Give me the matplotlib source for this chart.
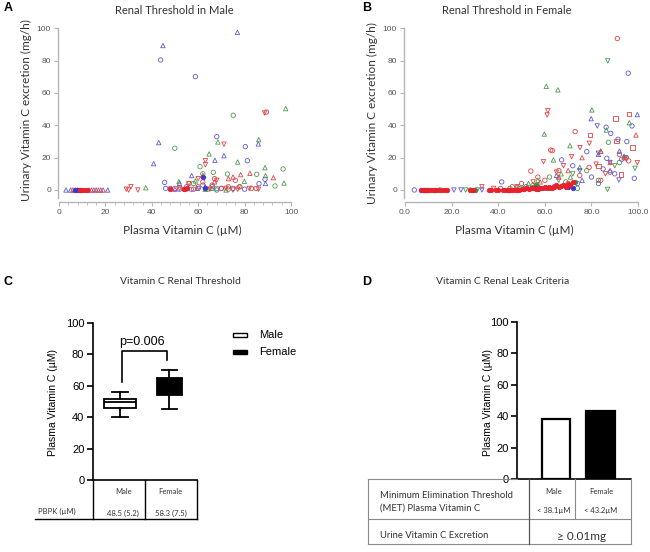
# Renal threshold figure: scatter of urinary vs plasma vitamin C (A, B),
# box plot of thresholds (C) and leak criteria bars (D)

import numpy as np
import matplotlib.pyplot as plt
from matplotlib.patches import Rectangle
from matplotlib.ticker import MultipleLocator, FormatStrFormatter

W, H = 650, 552
BLUE, GREEN, RED = '#5c5cd2', '#4f9a4f', '#e04444'
DENSE_RED, DENSE_BLUE, DENSE_GREEN = '#e8222c', '#3a3ac8', '#3f8a3f'
SANS = ['Lato', 'DejaVu Sans']
ARIAL = ['Liberation Sans', 'DejaVu Sans']

# ---- panel A data (male) ----
a_blue_tri_x = [3, 5, 7, 14, 16, 18, 21, 44.8, 76.9, 43.0, 40.8, 71.1, 67.2, 85.9, 57.2, 51.9, 89.0, 59.5, 63, 50]
a_blue_tri_y = [0, 0, 0, 0, 0, 0, 0, 89.3, 97.5, 29.3, 16.3, 21.2, 18.4, 28.5, 8.9, 4.1, 4.0, 1, 2, 0.5]
a_blue_circ_x = [43.8, 58.8, 68.0, 80.3, 81.2, 88.8, 45.5, 86.2, 48, 55, 60, 62, 66, 68, 70, 46, 52, 57, 75, 80]
a_blue_circ_y = [80.4, 70.1, 33.0, 26.8, 18.1, 6.6, 4.7, 3.9, 1, 2, 1, 3, 2, 0, 1, 1, 0.5, 0.5, 1, 0.5]
a_green_tri_x = [97.7, 86.1, 68.5, 64.7, 77.0, 88.8, 89.0, 79.9, 97.0, 37.4, 51.7, 58.8, 63, 66, 72]
a_green_tri_y = [50.3, 31.1, 29.7, 22.3, 17.3, 13.8, 8.9, 5.4, 4.3, 1.4, 5.2, 5.6, 0.5, 1, 0]
a_green_circ_x = [75.1, 49.9, 60.8, 66.5, 72.6, 85.2, 96.6, 93.1, 77.6, 55, 64, 68, 73, 62, 58]
a_green_circ_y = [46.2, 25.8, 14.4, 10.9, 9.9, 9.7, 13.0, 2.5, 1.9, 0.5, 0.5, 1, 0.5, 10, 4]
a_red_dtri_x = [88.6, 71.1, 63.1, 63.1, 30, 31, 34, 29, 65, 72, 77, 82, 86, 75, 56, 60, 68, 52]
a_red_dtri_y = [47.6, 28.3, 18.1, 15.6, 0, 2, 0, 0.5, 0.5, 1, 0.5, 1, 0.5, 0, 4, 7, 6, 1]
a_red_tri_x = [92.4, 82.3, 78.3, 75.0, 73, 6, 8, 13, 15, 17, 19, 62, 67]
a_red_tri_y = [7.6, 10.3, 9.5, 8, 7, 0, 0, 0, 0, 0, 0, 9, 5]
a_red_circ_x = [89.4, 50, 54, 56, 60, 62, 66, 67, 70, 73, 76, 78, 83, 85, 58]
a_red_circ_y = [48.2, 1, 0.5, 4, 2, 5, 3, 7, 1, 2, 6, 2, 1, 1, 0.5]
a_dense_blue_x = [7, 8, 9, 10, 62, 63]
a_dense_blue_y = [0, 0, 0, 0, 8, 1]
a_dense_red_x = [9, 10, 11, 12, 48, 54, 55]
a_dense_red_y = [0, 0, 0, 0, 0.5, 0.5, 1]

# ---- panel B data (female) ----
b_red_circ_x = [91.1, 73.0, 63.2, 54.0, 62.5, 57, 60, 66, 70, 75, 79, 84, 88, 92, 96, 50, 46, 41]
b_red_circ_y = [93.6, 36.1, 24.3, 11.7, 24.7, 8, 6, 12, 4, 9, 14, 6, 11, 22, 18, 4, 2, 1]
b_red_sq_x = [96.0, 79.5, 90.4, 90.8, 97.7, 92.8, 83]
b_red_sq_y = [47, 34, 44.3, 30.3, 26.2, 9.7, 15]
b_red_tri_x = [99.1, 76, 84, 88, 70, 66, 58, 94]
b_red_tri_y = [34, 20, 24, 17, 12, 8, 5, 20]
b_red_dtri_x = [61.3, 61.0, 79.1, 75.1, 59.4, 71.5, 99.7, 95, 86, 82, 65, 68, 55, 48, 38, 33]
b_red_dtri_y = [49, 46.4, 28.9, 26.2, 17.5, 20.6, 16.9, 19, 10, 16, 11, 15, 5, 2, 1, 2]
b_green_tri_x = [60.6, 65.6, 80.2, 59.8, 96.3, 70.8, 63.7, 86.4, 94, 84, 75, 67, 57, 53, 48, 71]
b_green_tri_y = [64.1, 61.9, 49.5, 34.6, 41.6, 27.4, 18.6, 37.1, 21, 24, 14, 10, 6, 4, 2, 8]
b_green_dtri_x = [87.0, 98.7, 86.9, 72, 90, 66, 50, 26, 31]
b_green_dtri_y = [79.8, 13.4, 0.4, 10, 15, 6, 1, 0, 0]
b_green_circ_x = [87.3, 78, 83, 95, 69, 62, 55, 45, 92, 74, 28, 15]
b_green_circ_y = [29.5, 12, 6, 20, 5, 8, 3, 1, 17, 1, 0, 0]
b_blue_circ_x = [95.8, 86.3, 88.3, 97.4, 91.4, 95.2, 98.4, 78, 86.6, 67.2, 85, 80, 72, 74, 90, 93, 64, 60, 52, 41.5, 4, 83]
b_blue_circ_y = [72.2, 38.8, 35, 39.6, 31.3, 29.9, 7.2, 23.7, 19.6, 18.6, 13, 8, 15, 4, 10, 19, 2, 1, 2, 5, 0, 4]
b_blue_tri_x = [99.7, 79.9, 83, 88, 92, 70, 76, 65]
b_blue_tri_y = [46.6, 44.1, 22, 12, 24, 3, 6, 9]
b_blue_dtri_x = [82.5, 83, 91.8, 94.5, 88, 75, 21, 24, 33]
b_blue_dtri_y = [39.6, 22.7, 6.2, 20, 17, 12, 0, 0, 0]
b_dense_red_x = [7, 8, 9, 10, 11, 12, 13, 14, 16, 17, 18, 28, 29, 36, 37, 39, 40, 42, 43, 44, 45, 46, 47, 48,
                 49, 50, 51, 52, 53, 54, 55, 56, 57, 58, 59, 60, 61, 62, 63, 64, 65, 66, 67, 68, 69, 70, 71, 72]
b_dense_red_y = [0, 0, 0, 0, 0, 0, 0, 0, 0, 0, 0, 0, 0, 0, 0, 0, 0, 0, 0, 0, 0, 0, 0, 0,
                 0, 0.5, 0.5, 1, 0.5, 1, 1, 0.5, 1, 1.5, 1, 2, 1, 2, 1.5, 2, 3, 2, 2.5, 3, 2, 4, 3, 5]
b_dense_blue_x = [7, 8, 9, 13, 44, 45, 56, 57, 70, 71, 72]
b_dense_blue_y = [0, 0, 0, 0, 0, 0, 1, 0.5, 2, 3, 1]
b_dense_green_x = [10, 15, 29, 30, 55, 56, 57, 62, 73]
b_dense_green_y = [0, 0, 0, 0, 2, 3, 2, 1, 5]

# ---- panel C data (box plot of renal threshold) ----
groups = ['Male', 'Female']
box_whislo = [40.3, 45.1]
box_q1 = [45.6, 54.0]
box_med = [49.8, 58.5]
box_q3 = [51.3, 64.6]
box_whishi = [55.7, 69.9]
p_value = 'p=0.006'
pbpk_labels = ['48.5 (5.2)', '58.3 (7.5)']

# ---- panel D data (MET bars) ----
met_values = [38.1, 43.2]
met_labels = ['< 38.1µM', '< 43.2µM']
excretion_label = '≥ 0.01mg'

fig = plt.figure(figsize=(W / 100, H / 100), dpi=100)


def px_axes(l, t, r, b):
    return fig.add_axes([l / W, 1 - b / H, (r - l) / W, (b - t) / H])


def style_scatter_axes(ax, fmt):
    for s in ['top', 'right']:
        ax.spines[s].set_visible(False)
    for s in ['left', 'bottom']:
        ax.spines[s].set_color('#b5b5b5')
        ax.spines[s].set_linewidth(1.0)
    ax.spines['left'].set_bounds(-5, 100)
    ax.spines['bottom'].set_bounds(0, 100)
    ax.set_xticks(np.arange(0, 101, 20))
    ax.set_yticks(np.arange(0, 101, 20))
    ax.xaxis.set_major_formatter(FormatStrFormatter(fmt))
    ax.tick_params(direction='out', length=3, width=0.8, color='#b5b5b5',
                   labelsize=6, labelcolor='#555555', pad=2)
    for lab in ax.get_xticklabels() + ax.get_yticklabels():
        lab.set_family(ARIAL)


def draw_series(ax, series):
    for xs, ys, color, marker, filled in series:
        ax.scatter(xs, ys, s=10, marker=marker, linewidths=0.6,
                   facecolors=color if filled else 'none', edgecolors=color, zorder=3)


# Panel A
axA = px_axes(58, 25, 293, 202)
axA.set_xlim(-0.43, 100.86)
axA.set_ylim(-7.42, 102)
draw_series(axA, [
    (a_blue_tri_x, a_blue_tri_y, BLUE, '^', False),
    (a_blue_circ_x, a_blue_circ_y, BLUE, 'o', False),
    (a_green_tri_x, a_green_tri_y, GREEN, '^', False),
    (a_green_circ_x, a_green_circ_y, GREEN, 'o', False),
    (a_red_dtri_x, a_red_dtri_y, RED, 'v', False),
    (a_red_tri_x, a_red_tri_y, RED, '^', False),
    (a_red_circ_x, a_red_circ_y, RED, 'o', False),
    (a_dense_blue_x, a_dense_blue_y, DENSE_BLUE, 'o', True),
    (a_dense_red_x, a_dense_red_y, DENSE_RED, 'o', True),
])
style_scatter_axes(axA, '%d')
axA.xaxis.set_minor_locator(MultipleLocator(4))
axA.tick_params(which='minor', direction='out', length=2, width=0.6, color='#b5b5b5')

# Panel B
axB = px_axes(404, 25, 642, 202)
axB.set_xlim(-0.43, 101.7)
axB.set_ylim(-7.42, 102)
draw_series(axB, [
    (b_green_circ_x, b_green_circ_y, GREEN, 'o', False),
    (b_blue_circ_x, b_blue_circ_y, BLUE, 'o', False),
    (b_red_circ_x, b_red_circ_y, RED, 'o', False),
    (b_green_tri_x, b_green_tri_y, GREEN, '^', False),
    (b_green_dtri_x, b_green_dtri_y, GREEN, 'v', False),
    (b_blue_tri_x, b_blue_tri_y, BLUE, '^', False),
    (b_blue_dtri_x, b_blue_dtri_y, BLUE, 'v', False),
    (b_red_tri_x, b_red_tri_y, RED, '^', False),
    (b_red_dtri_x, b_red_dtri_y, RED, 'v', False),
    (b_red_sq_x, b_red_sq_y, RED, 's', False),
    (b_dense_green_x, b_dense_green_y, DENSE_GREEN, 'o', True),
    (b_dense_blue_x, b_dense_blue_y, DENSE_BLUE, 'o', True),
    (b_dense_red_x, b_dense_red_y, DENSE_RED, 'o', True),
])
style_scatter_axes(axB, '%.1f')

# Panel C: box plot
axC = px_axes(92.7, 318, 197, 480)
stats = []
for i, g in enumerate(groups):
    stats.append(dict(label=g, whislo=box_whislo[i], q1=box_q1[i], med=box_med[i],
                      q3=box_q3[i], whishi=box_whishi[i], fliers=[]))
bp = axC.bxp(stats, positions=[1, 2], widths=[0.66, 0.52], capwidths=[0.34, 0.3],
             patch_artist=True, showfliers=False,
             boxprops=dict(linewidth=1.3, edgecolor='black'),
             medianprops=dict(color='black', linewidth=1.3),
             whiskerprops=dict(color='black', linewidth=1.3),
             capprops=dict(color='black', linewidth=1.3))
for patch, fc in zip(bp['boxes'], ['white', 'black']):
    patch.set_facecolor(fc)
axC.set_xlim(0.448, 2.556)
axC.set_ylim(0, 103)
axC.plot([1.05, 1.05, 1.94, 1.94], [62, 82, 82, 76], color='black', lw=1.2)
axC.text(1.44, 87.5, p_value, ha='center', va='center', fontsize=9, family=ARIAL)

# Panel D: bars
axD = px_axes(517, 318, 631, 479)
axD.bar([1, 2], met_values, width=0.63, color=['white', 'black'], edgecolor='black', linewidth=1.6)
axD.set_xlim(0.124, 2.685)
axD.set_ylim(0, 102.5)

for ax in (axC, axD):
    ax.spines['top'].set_visible(False)
    ax.spines['right'].set_visible(False)
    ax.spines['left'].set_linewidth(1.2)
    ax.spines['bottom'].set_linewidth(1.2)
    ax.spines['left'].set_bounds(0, 100)
    ax.set_yticks(np.arange(0, 101, 20))
    ax.set_xticks([])
    ax.tick_params(axis='y', direction='out', length=4, width=1.2, labelsize=8, pad=2)
    for lab in ax.get_yticklabels():
        lab.set_family(ARIAL)

# overlay in pixel coordinates for labels and tables
ov = fig.add_axes([0, 0, 1, 1])
ov.set_xlim(0, W)
ov.set_ylim(H, 0)
ov.axis('off')

# panel letters
for letter, (x, y) in zip('ABCD', [(4, 8), (362, 8), (4, 282), (362, 282)]):
    ov.text(x, y, letter, fontsize=9, fontweight='bold', family=ARIAL, va='center')

# titles
ov.text(174, 10, 'Renal Threshold in Male', ha='center', va='center', fontsize=8, family=SANS, color='#333333')
ov.text(507, 10, 'Renal Threshold in Female', ha='center', va='center', fontsize=8, family=SANS, color='#333333')
ov.text(180, 282, 'Vitamin C Renal Threshold', ha='center', va='center', fontsize=7.5, family=SANS, color='#333333')
ov.text(503, 282, 'Vitamin C Renal Leak Criteria', ha='center', va='center', fontsize=7.5, family=SANS, color='#333333')

# scatter axis labels
ov.text(26, 110, 'Urinary Vitamin C excretion (mg/h)', rotation=90, ha='center', va='center',
        fontsize=8.5, family=SANS, color='#333333')
ov.text(182, 230, 'Plasma Vitamin C (µM)', ha='center', va='center', fontsize=8.5, family=SANS, color='#333333')
ov.text(372, 113, 'Urinary Vitamin C excretion (mg/h)', rotation=90, ha='center', va='center',
        fontsize=8.5, family=SANS, color='#333333')
ov.text(514, 230, 'Plasma Vitamin C (µM)', ha='center', va='center', fontsize=8.5, family=SANS, color='#333333')

# C/D y labels
ov.text(53, 402, 'Plasma Vitamin C (µM)', rotation=90, ha='center', va='center', fontsize=7.5, family=ARIAL)
ov.text(488, 402, 'Plasma Vitamin C (µM)', rotation=90, ha='center', va='center', fontsize=7.5, family=ARIAL)

# C legend
ov.add_patch(Rectangle((233, 333), 13.5, 3.5, facecolor='white', edgecolor='black', lw=1.0))
ov.add_patch(Rectangle((233, 350), 13.5, 4, facecolor='black', edgecolor='black', lw=1.0))
ov.text(259, 334.5, groups[0], va='center', fontsize=8, family=ARIAL)
ov.text(259, 352, groups[1], va='center', fontsize=8, family=ARIAL)

# C table
for x in [92.7, 145, 197]:
    ov.plot([x, x], [480, 518.5], color='black', lw=1.0)
ov.plot([35, 197], [518.5, 518.5], color='black', lw=1.0)
ov.text(56.7, 511, 'PBPK (µM)', ha='center', va='center', fontsize=5.5, family=SANS, color='#333333')
for x, g, v in zip([123.3, 170.7], groups, pbpk_labels):
    ov.text(x, 491, g, ha='center', va='center', fontsize=5.5, family=SANS, color='#333333')
    ov.text(x, 513, v, ha='center', va='center', fontsize=5.5, family=SANS, color='#333333')

# D table
tc = '#8a8a8a'
ov.plot([368, 517], [479, 479], color=tc, lw=0.8)
ov.plot([368, 631], [518.5, 518.5], color=tc, lw=0.8)
ov.plot([368, 631], [543.5, 543.5], color=tc, lw=0.8)
ov.plot([368, 368], [479, 543.5], color=tc, lw=0.8)
ov.plot([631, 631], [479, 543.5], color=tc, lw=0.8)
ov.plot([574.5, 574.5], [479, 518.5], color=tc, lw=0.8)
ov.plot([529, 529], [479, 543.5], color='#555555', lw=0.9)
ov.text(380, 496, 'Minimum Elimination Threshold', va='center', fontsize=6.8, family=SANS, color='#333333')
ov.text(380, 508, '(MET) Plasma Vitamin C', va='center', fontsize=6.8, family=SANS, color='#333333')
ov.text(380, 536, 'Urine Vitamin C Excretion', va='center', fontsize=6.8, family=SANS, color='#333333')
for x, g, v in zip([554, 601], groups, met_labels):
    ov.text(x, 491, g, ha='center', va='center', fontsize=5.5, family=SANS, color='#333333')
    ov.text(x, 510, v, ha='center', va='center', fontsize=5.5, family=SANS, color='#333333')
ov.text(582, 537, excretion_label, ha='center', va='center', fontsize=8.5, family=SANS, color='#333333')

fig.savefig('out.png', dpi=100)
